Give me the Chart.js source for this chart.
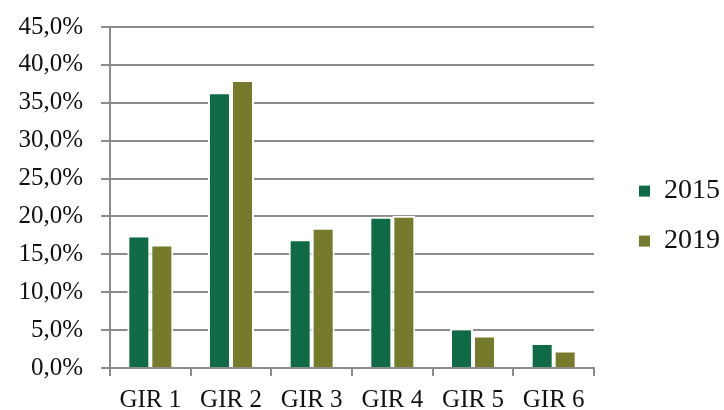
<!DOCTYPE html>
<html>
<head>
<meta charset="utf-8">
<script src="https://cdn.jsdelivr.net/npm/chart.js@4"></script>
<style>
  html, body { margin: 0; padding: 0; background: #fff; }
  #wrap { width: 724px; height: 410px; }
</style>
</head>
<body>
<div id="wrap"><canvas id="graficoGir" width="724" height="410"></canvas></div>
<script>
const categorias = ['GIR 1', 'GIR 2', 'GIR 3', 'GIR 4', 'GIR 5', 'GIR 6'];
const valores2015 = [17.5, 36.4, 17.0, 19.95, 5.2, 3.3];
const valores2019 = [16.3, 38.0, 18.5, 20.1, 4.3, 2.3];
const series = ['2015', '2019'];

const gris = '#8c8c8c';
const familia = '"Liberation Serif", "DejaVu Serif", serif';

Chart.defaults.font = { family: familia, size: 25 };
Chart.defaults.color = '#111';

const data = {
  labels: categorias,
  datasets: [{
    label: series[0],
    data: valores2015,
    backgroundColor: '#0e6b45',
    borderColor: '#ffffff',
    borderWidth: 2
  }, {
    label: series[1],
    data: valores2019,
    backgroundColor: '#757b2a',
    borderColor: '#ffffff',
    borderWidth: 2
  }]
};

// fija el margen superior del area de dibujo
const ajustarVertical = s => {
  s.paddingTop = 27;
  s.paddingBottom = 0;
};

const config = {
  type: 'bar',
  data,
  options: {
    responsive: false,
    animation: false,
    categoryPercentage: 0.57,
    barPercentage: 1,
    layout: { padding: { top: 6, left: 0, right: 0, bottom: 0 } },
    plugins: {
      tooltip: { enabled: false },
      legend: {
        position: 'right',
        maxWidth: 107,
        title: { display: true, text: '', padding: 7.5, font: { size: 1 } },
        labels: {
          boxWidth: 11,
          boxHeight: 11,
          padding: 22,
          font: { family: familia, size: 28 },
          color: '#111',
          generateLabels: chart => chart.data.datasets.map((ds, i) => ({
            text: ds.label,
            fillStyle: ds.backgroundColor,
            strokeStyle: ds.backgroundColor,
            lineWidth: 0,
            datasetIndex: i
          }))
        }
      }
    },
    scales: {
      x: {
        afterFit: s => { s.height = 42; },
        grid: {
          offset: true,
          drawOnChartArea: false,
          tickLength: 8,
          color: gris,
          lineWidth: 2
        },
        border: { color: gris, width: 2 },
        ticks: { padding: 9, color: '#111' }
      },
      y: {
        min: 0,
        max: 45,
        afterFit: s => { s.width = 110; ajustarVertical(s); },
        ticks: {
          stepSize: 5,
          padding: 18,
          color: '#111',
          callback: v => v.toFixed(1).replace('.', ',') + '%'
        },
        grid: { color: gris, lineWidth: 2, tickLength: 9 },
        border: { color: gris, width: 2 }
      },
      hueco: {
        type: 'linear',
        position: 'right',
        afterFit: s => { s.width = 23; ajustarVertical(s); },
        grid: { display: false, drawTicks: false },
        ticks: { display: false },
        border: { display: false }
      }
    }
  }
};

const miGrafico = new Chart(document.getElementById('graficoGir'), config);
</script>
</body>
</html>
